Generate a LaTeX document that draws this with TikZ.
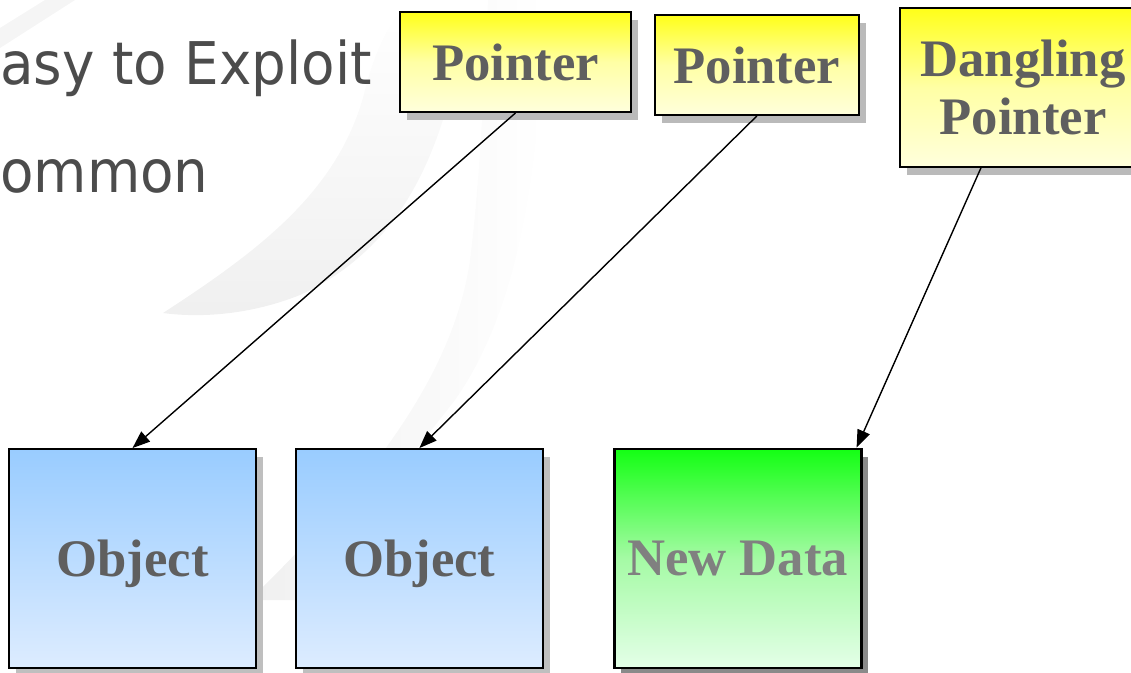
\documentclass[tikz,border=0pt]{standalone}
\usepackage{fontspec}
\setmainfont{Liberation Serif}
\newfontfamily\slidefont{DejaVu Sans}
\usepackage{tikz}
\usetikzlibrary{positioning}
\usetikzlibrary{shapes,arrows.meta,shadows}

\definecolor{labelgray}{RGB}{95,95,95}
\definecolor{datagray}{RGB}{128,128,128}
\definecolor{ptrtop}{RGB}{255,255,25}
\definecolor{ptrmid}{RGB}{255,255,165}
\definecolor{ptrbot}{RGB}{255,255,220}
\definecolor{objtop}{RGB}{153,204,255}
\definecolor{objmid}{RGB}{187,220,255}
\definecolor{objbot}{RGB}{221,236,255}
\definecolor{datatop}{RGB}{20,255,20}
\definecolor{datamid}{RGB}{165,250,165}
\definecolor{databot}{RGB}{228,255,232}

\tikzstyle{slide} = [font=\slidefont\fontsize{33.5}{40}\selectfont, text=black!70, inner sep=0pt]
\tikzstyle{box} = [rectangle, draw=black, line width=1.1pt, text=labelgray, align=center,
    font=\fontsize{30}{33}\selectfont\bfseries]
\tikzstyle{pointer} = [box, top color=ptrtop, bottom color=ptrbot, middle color=ptrmid,
    minimum height=2cm,
    drop shadow={shadow xshift=0.14cm, shadow yshift=-0.16cm, fill=black!27, opacity=1}]
\tikzstyle{object} = [box, top color=objtop, bottom color=objbot, middle color=objmid,
    minimum width=4.94cm, minimum height=4.38cm, text depth=0pt,
    drop shadow={shadow xshift=0.14cm, shadow yshift=-0.16cm, fill=black!25, opacity=1}]
\tikzstyle{newdata} = [object, line width=1.6pt, text=datagray,
    top color=datatop, bottom color=databot, middle color=datamid,
    drop shadow={shadow xshift=0.14cm, shadow yshift=-0.16cm, fill=black!46, opacity=1}]
\tikzstyle{line} = [draw, line width=0.8pt, -{Triangle[length=10pt,width=7.5pt]}]

\begin{document}
\begin{tikzpicture}[x=0.02cm, y=-0.02cm]
        \useasboundingbox (0,0) rectangle (1131,672);
        \clip (0,0) rectangle (1131,672);
        % background swooshes
        \fill[black!4] (0,48) -- (75,0) -- (45,0) -- (0,28) -- cycle;
        \shade[top color=white, bottom color=black!6] (163,313) .. controls (260,250) and (340,190) .. (365,90)
            .. controls (375,50) and (390,20) .. (410,0) -- (470,0)
            .. controls (450,120) and (420,240) .. (300,295)
            .. controls (250,315) and (200,318) .. (163,313) -- cycle;
        \shade[left color=black!6, right color=white] (250,600) .. controls (330,520) and (450,400) .. (470,260)
            .. controls (480,180) and (483,100) .. (488,0) -- (545,0)
            .. controls (540,150) and (525,300) .. (455,400)
            .. controls (385,490) and (325,560) .. (295,600) -- cycle;
        % slide text
        \node [slide, anchor=base west] (easy) at (0,85) {\scalebox{0.93}[1]{asy to Exploit}};
        \node [slide, anchor=base west] (common) at (0,193) {\scalebox{0.93}[1]{ommon}};
        % nodes
        \node [pointer, minimum width=4.62cm] (ptra) at (515.5,62) {Pointer};
        \node [pointer, minimum width=4.08cm, right=0.44cm of ptra, yshift=-0.06cm] (ptrb) {Pointer};
        \node [pointer, minimum width=4.92cm, minimum height=3.18cm, anchor=north west] (dang) at (899,7) {Dangling\\Pointer};
        \node [object] (obja) at (132.5,558.5) {Object};
        \node [object, right=0.76cm of obja] (objb) {Object};
        \node [newdata, right=1.38cm of objb] (data) {New Data};
        % edges
        \path [line] (ptra.south) -- (obja.north);
        \path [line] (ptrb.south) -- (objb.north);
        \path [line] ([xshift=-0.84cm]dang.south) -- ([xshift=-0.12cm]data.north east);
    \end{tikzpicture}
\end{document}
